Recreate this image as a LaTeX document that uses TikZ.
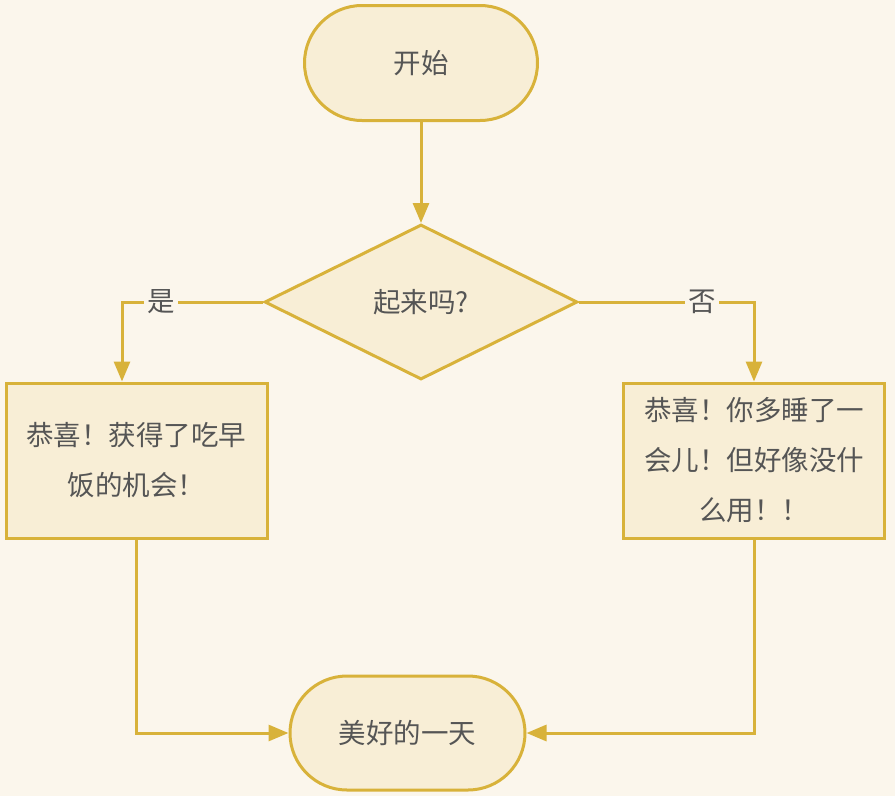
\documentclass[tikz,border=0pt]{standalone}
\usepackage{fontspec}
\setmainfont{Noto Sans CJK SC}
\usetikzlibrary{shapes.geometric,shapes.misc,arrows.meta}
\definecolor{bgc}{HTML}{FBF6EC}
\definecolor{fillc}{HTML}{F8EED6}
\definecolor{linec}{HTML}{D8B23A}
\definecolor{txtc}{HTML}{555555}
\begin{document}
\begin{tikzpicture}[x=1pt,y=-1pt,
  every node/.style={text=txtc,font=\fontsize{27.5}{50}\selectfont},
  term/.style={draw=linec,fill=fillc,line width=3pt,rounded rectangle,minimum width=233pt,minimum height=115pt,inner sep=0pt},
  dec/.style={draw=linec,fill=fillc,line width=3pt,diamond,aspect=2.02,minimum width=313pt,minimum height=155pt,inner sep=0pt},
  proc/.style={draw=linec,fill=fillc,line width=3pt,rectangle,minimum width=261pt,minimum height=155pt,align=center,inner sep=0pt},
  conn/.style={draw=linec,line width=3pt,-{Triangle[length=20pt,width=16pt]}},
  lbl/.style={fill=bgc,inner sep=3pt}]
\fill[bgc] (0,0) rectangle (895,796);
\useasboundingbox (0,0) rectangle (895,796);
\node[term] (start) at (421,63) {开始};
\node[dec] (q) at (421,302) {起来吗?};
\node[proc] (left) at (136.5,460.5) {恭喜！获得了吃早\\饭的机会！};
\node[proc] (right) at (754,460.5) {恭喜！你多睡了一\\会儿！但好像没什\\么用！！};
\node[term,minimum width=235pt,minimum height=114pt] (end) at (407.5,733) {美好的一天};
\coordinate (yl) at (122,302);
\coordinate (yr) at (754,302);
\coordinate (bl) at (136.5,733);
\coordinate (br) at (754,733);
\draw[conn] (start.south) -- (q.north);
\draw[conn] (q.west) -- (yl) -- (yl |- left.north);
\draw[conn] (q.east) -- (yr) -- (right.north);
\draw[conn] (left.south) -- (bl) -- (end.west);
\draw[conn] (right.south) -- (br) -- (end.east);
\node[lbl] (yes) at (161,302) {是};
\node[lbl] (no) at (702,302) {否};
\end{tikzpicture}
\end{document}
